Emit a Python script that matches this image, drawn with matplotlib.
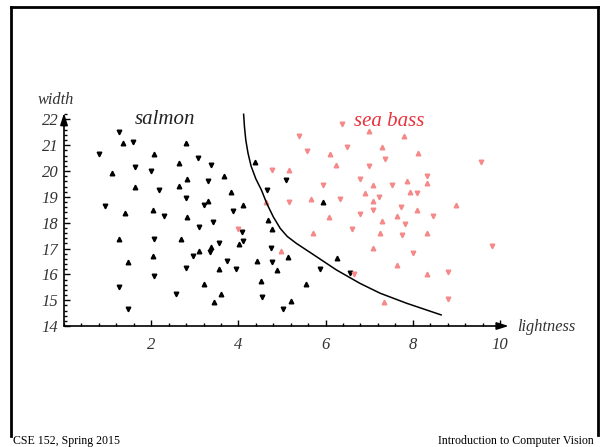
import matplotlib
matplotlib.use('Agg')
import matplotlib.pyplot as plt
from matplotlib.lines import Line2D
from matplotlib.ticker import MultipleLocator

plt.rcParams.update({'font.family': 'Liberation Serif'})

# Lachs (salmon): lightness, width
salmon_x = [1.26, 1.35, 1.59, 2.80, 0.81, 2.07, 3.07, 2.64, 3.38, 4.39,
            1.63, 1.11, 1.99, 2.83, 3.30, 3.68, 5.09, 1.63, 2.19, 2.63,
            4.66, 3.83, 2.80, 3.30, 3.21, 4.10, 0.93, 2.03, 3.87, 1.39,
            2.30, 2.83, 3.41, 4.67, 3.10, 4.76, 4.08, 1.26, 2.07, 2.68,
            4.10, 4.01, 3.55, 3.37, 4.74, 3.10, 3.34, 2.03, 2.97, 5.13,
            3.73, 4.43, 4.76, 1.46, 2.80, 3.55, 3.94, 4.89, 2.07, 4.52,
            1.26, 3.22, 2.57, 3.59, 4.55, 3.45, 1.46, 5.21, 5.03, 5.95,
            5.87, 6.27, 6.56, 5.54]
salmon_y = [21.52, 21.10, 21.13, 21.10, 20.68, 20.68, 20.49, 20.30, 20.23, 20.36,
            20.14, 19.93, 19.99, 19.69, 19.61, 19.81, 19.65, 19.39, 19.25, 19.44,
            19.26, 19.19, 18.97, 18.86, 18.70, 18.70, 18.64, 18.50, 18.45, 18.36,
            18.27, 18.23, 18.01, 18.11, 17.83, 17.77, 17.66, 17.37, 17.37, 17.37,
            17.30, 17.17, 17.23, 17.07, 17.02, 16.90, 16.85, 16.72, 16.72, 16.67,
            16.52, 16.53, 16.47, 16.48, 16.26, 16.22, 16.21, 16.17, 15.94, 15.73,
            15.52, 15.63, 15.25, 15.24, 15.14, 14.93, 14.67, 14.98, 14.67, 18.80,
            16.22, 16.63, 16.04, 15.61]

# Wolfsbarsch (sea bass)
bass_x = [4.77, 4.63, 4.00, 4.97, 6.38, 6.99, 5.39, 7.80, 5.58, 6.11,
          6.49, 7.29, 7.37, 8.13, 9.57, 6.23, 6.99, 5.17, 6.80, 7.86,
          8.32, 8.32, 5.95, 7.09, 7.53, 7.93, 8.09, 6.91, 7.22, 7.09,
          5.17, 5.67, 6.34, 8.99, 7.74, 8.10, 7.09, 6.07, 6.79, 7.63,
          8.47, 7.29, 7.81, 5.72, 6.60, 7.25, 7.76, 8.32, 9.81, 7.09,
          8.01, 7.63, 6.65, 8.32, 8.81, 7.35, 8.81]
bass_y = [20.04, 18.80, 17.75, 16.90, 21.82, 21.57, 21.37, 21.37, 20.77, 20.68,
          20.94, 20.92, 20.45, 20.70, 20.36, 20.23, 20.18, 20.04, 19.69, 19.61,
          19.81, 19.55, 19.45, 19.45, 19.48, 19.20, 19.14, 19.14, 19.01, 18.84,
          18.80, 18.90, 18.90, 18.70, 18.59, 18.49, 18.49, 18.22, 18.35, 18.26,
          18.26, 18.06, 17.96, 17.59, 17.75, 17.59, 17.51, 17.59, 17.11, 17.02,
          16.84, 16.37, 16.00, 16.00, 16.10, 14.94, 15.03]

# Entscheidungsgrenze
border_x = [4.12, 4.14, 4.17, 4.22, 4.29, 4.40, 4.53, 4.65, 4.80, 4.96, 5.12,
            5.33, 5.68, 6.25, 6.79, 7.25, 7.86, 8.65]
border_y = [22.20, 21.70, 21.20, 20.70, 20.20, 19.70, 19.26, 18.75, 18.23, 17.78, 17.47,
            17.20, 16.81, 16.17, 15.65, 15.27, 14.88, 14.43]

W, H = 600, 447
fig = plt.figure(figsize=(6.0, 4.47), dpi=100)
fig.patch.set_facecolor('white')

ax = fig.add_axes([64 / W, (H - 326) / H, 444.7 / W, 213 / H])
ax.set_xlim(0, 10.2)
ax.set_ylim(14, 22.25)

mk = ['v', '^']
for i, (x, y) in enumerate(zip(salmon_x, salmon_y)):
    ax.plot(x, y, marker=mk[i % 2], ms=3.3, color='black', ls='none', clip_on=False)
for i, (x, y) in enumerate(zip(bass_x, bass_y)):
    ax.plot(x, y, marker=mk[i % 2], ms=3.3, color='#f58888', ls='none', clip_on=False)

ax.plot(border_x, border_y, color='black', lw=1.1, clip_on=False)

for s in ax.spines.values():
    s.set_visible(False)
ax.annotate('', xy=(1.0, 0), xytext=(0, 0), xycoords='axes fraction',
            arrowprops=dict(arrowstyle='-|>,head_length=0.7,head_width=0.22', color='black', lw=1.2,
                            shrinkA=0, shrinkB=0))
ax.annotate('', xy=(0, 1.0), xytext=(0, 0), xycoords='axes fraction',
            arrowprops=dict(arrowstyle='-|>,head_length=0.7,head_width=0.22', color='black', lw=1.2,
                            shrinkA=0, shrinkB=0))

ax.set_xticks([2, 4, 6, 8, 10])
ax.set_yticks(range(14, 23))
ax.xaxis.set_minor_locator(MultipleLocator(0.4))
ax.yaxis.set_minor_locator(MultipleLocator(0.2))
ax.tick_params(which='both', direction='in', top=False, right=False, width=1, colors='black')
ax.tick_params(which='major', length=4.5)
ax.tick_params(which='minor', length=2.5)
ax.tick_params(axis='x', pad=8)
ax.tick_params(axis='y', pad=4)
for lab in ax.get_xticklabels() + ax.get_yticklabels():
    lab.set_fontstyle('italic')
    lab.set_fontsize(12)
    lab.set_color('#333333')

fig.text(38 / W, 1 - 100 / H, 'width', style='italic', fontsize=11.8, color='#333333', va='center')
fig.text(517 / W, 1 - 327 / H, 'lightness', style='italic', fontsize=11.8, color='#333333', va='center')
fig.text(165 / W, 1 - 120 / H, 'salmon', style='italic', fontsize=15, color='#222222', ha='center', va='center')
fig.text(389 / W, 1 - 121 / H, 'sea bass', style='italic', fontsize=15, color='#e8323c', ha='center', va='center')

# Folienrahmen
def px_line(xs, ys, lw=2):
    fig.add_artist(Line2D([x / W for x in xs], [1 - y / H for y in ys], color='black', lw=lw,
                          transform=fig.transFigure))

px_line([11, 599], [7, 7])
px_line([11, 11], [7, 436])
px_line([598, 598], [7, 435])

fig.text(13 / W, 1 - 444 / H, 'CSE 152, Spring 2015', fontsize=8.6, color='black', va='baseline')
fig.text(594 / W, 1 - 444 / H, 'Introduction to Computer Vision', fontsize=8.6, color='black',
         va='baseline', ha='right')

fig.savefig('out.png', dpi=100, facecolor='white')
